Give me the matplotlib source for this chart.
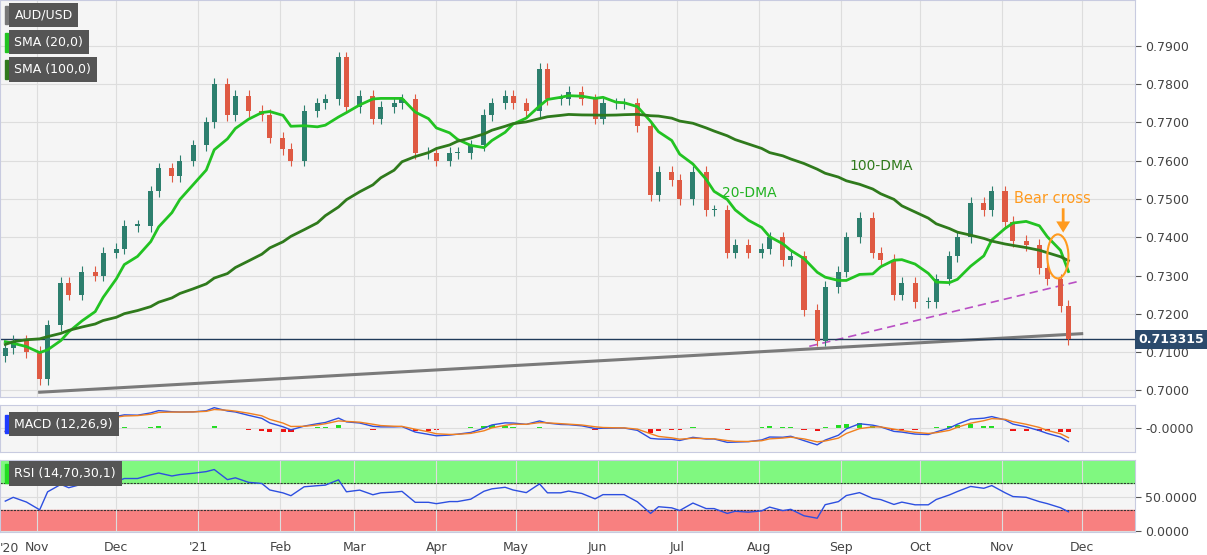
import numpy as np
import pandas as pd
import matplotlib
matplotlib.use("Agg")
import matplotlib.pyplot as plt
import matplotlib.dates as mdates
from matplotlib.patches import Ellipse

# ----------------------------
# Data (AUD/USD closes, one every 3 business days)
# ----------------------------
history = [0.690, 0.693, 0.695, 0.698, 0.700, 0.699, 0.702, 0.704, 0.706, 0.709,
           0.712, 0.716, 0.718, 0.720, 0.719, 0.722, 0.724, 0.727, 0.730, 0.733,
           0.725, 0.716, 0.714, 0.712, 0.710, 0.713, 0.716, 0.716, 0.714, 0.712,
           0.711, 0.709]

closes = [0.711, 0.713, 0.710, 0.703, 0.717, 0.728, 0.725, 0.731, 0.730, 0.736,
          0.737, 0.743, 0.743, 0.752, 0.758, 0.756, 0.760, 0.764, 0.770, 0.780,
          0.772, 0.777, 0.773, 0.772, 0.766, 0.763, 0.760, 0.773, 0.775, 0.776,
          0.787, 0.774, 0.777, 0.771, 0.774, 0.775, 0.776, 0.762, 0.762, 0.760,
          0.762, 0.762, 0.764, 0.772, 0.775, 0.777, 0.775, 0.773, 0.784, 0.776,
          0.776, 0.778, 0.776, 0.771, 0.775, 0.775, 0.775, 0.769, 0.751, 0.757,
          0.755, 0.750, 0.757, 0.747, 0.747, 0.736, 0.738, 0.736, 0.737, 0.740,
          0.734, 0.735, 0.721, 0.713, 0.727, 0.731, 0.740, 0.745, 0.736, 0.734,
          0.725, 0.728, 0.723, 0.723, 0.729, 0.735, 0.740, 0.749, 0.747, 0.752,
          0.744, 0.739, 0.738, 0.732, 0.729, 0.722, 0.7133]

last_price = 0.713315
support = (("2020-11-02", 0.6995), ("2021-12-01", 0.7148))
rising = (("2021-08-20", 0.7115), ("2021-11-30", 0.7285))

# ----------------------------
# Indicators
# ----------------------------
dates = pd.date_range(end="2021-11-26", periods=len(closes), freq="3B")
s_all = pd.Series(history + closes)
n0 = len(history)
sma20 = s_all.rolling(7).mean().values[n0:]
sma100 = s_all.rolling(33).mean().values[n0:]

ema_fast = s_all.ewm(span=4).mean()
ema_slow = s_all.ewm(span=9).mean()
macd = ema_fast - ema_slow
signal = macd.ewm(span=3).mean()
hist = (macd - signal).values[n0:]
macd = macd.values[n0:]
signal = signal.values[n0:]

delta = s_all.diff()
gain = delta.clip(lower=0).ewm(alpha=1 / 9).mean()
loss = (-delta.clip(upper=0)).ewm(alpha=1 / 9).mean()
rsi = (100 - 100 / (1 + gain / loss)).values[n0:]

x = mdates.date2num(dates)
opens = np.r_[history[-1], closes[:-1]]
closes_a = np.array(closes)

# ----------------------------
# Figure
# ----------------------------
fig = plt.figure(figsize=(12.07, 5.55), dpi=100)
bg = "#f5f5f5"
ax = fig.add_axes([0.0, 0.285, 0.940, 0.715], facecolor=bg)
axm = fig.add_axes([0.0, 0.186, 0.940, 0.085], facecolor=bg, sharex=ax)
axr = fig.add_axes([0.0, 0.041, 0.940, 0.130], facecolor=bg, sharex=ax)

up_c, dn_c = "#2d7f6e", "#df5a43"
for xi, o, c in zip(x, opens, closes_a):
    col = up_c if c >= o else dn_c
    lo, hi = min(o, c), max(o, c)
    ax.vlines(xi, lo - 0.0015, hi + 0.0015, color=col, lw=0.8, zorder=3)
    ax.bar(xi, max(hi - lo, 0.0004), bottom=lo, width=1.9, color=col, zorder=3)

ax.plot(x, sma20, color="#22c322", lw=2, zorder=4)
ax.plot(x, sma100, color="#2f7a1c", lw=2, zorder=4)

sx = mdates.datestr2num([support[0][0], support[1][0]])
ax.plot(sx, [support[0][1], support[1][1]], color="#7a7a7a", lw=2.2, zorder=2)
rx = mdates.datestr2num([rising[0][0], rising[1][0]])
ax.plot(rx, [rising[0][1], rising[1][1]], color="#b94fc4", lw=1.2, ls=(0, (5, 3)), zorder=2)

ax.axhline(last_price, color="#203a5a", lw=1, zorder=2)

ax.text(mdates.datestr2num("2021-09-04"), 0.7575, "100-DMA", color="#2f7a1c", fontsize=10)
ax.text(mdates.datestr2num("2021-07-18"), 0.7505, "20-DMA", color="#22b322", fontsize=10)
bx = mdates.datestr2num("2021-11-24")
ax.text(bx - 4, 0.7490, "Bear cross", color="#ff9a1e", fontsize=10.5, ha="center")
ax.annotate("", xy=(bx, 0.7405), xytext=(bx, 0.7483),
            arrowprops=dict(arrowstyle="simple,head_width=1.0,head_length=0.8",
                            color="#ff9a1e", lw=0))
ax.add_patch(Ellipse((mdates.datestr2num("2021-11-22"), 0.7350), width=8, height=0.0115,
                     fill=False, edgecolor="#ff9a1e", lw=1.5, zorder=5))

ax.set_ylim(0.6983, 0.8020)
ax.set_xlim(mdates.datestr2num("2020-10-18"), mdates.datestr2num("2021-12-21"))
ax.yaxis.tick_right()
yt = np.arange(0.70, 0.7901, 0.01)
ax.set_yticks(yt, [f"{v:.4f}" for v in yt])
ax.text(1.003, last_price, f"{last_price:.6f}", transform=ax.get_yaxis_transform(),
        va="center", ha="left", color="white", fontsize=9, fontweight="bold",
        bbox=dict(boxstyle="square,pad=0.25", fc="#2b4a6c", ec="none"), zorder=6)

# MACD
axm.bar(x, hist, width=2.0, color=np.where(hist >= 0, "#22dd22", "#ee1111"))
axm.plot(x, macd, color="#2d4fe0", lw=1)
axm.plot(x, signal, color="#f08020", lw=1)
axm.yaxis.tick_right()
lim = np.abs(np.r_[macd, signal]).max() * 1.15
axm.set_ylim(-lim, lim)
axm.set_yticks([0], ["-0.0000"])

# RSI
axr.axhspan(70, 105, color="#80f880", zorder=0)
axr.axhspan(-5, 30, color="#f88080", zorder=0)
axr.axhline(70, color="#333333", lw=0.8, ls=(0, (2, 1)))
axr.axhline(30, color="#333333", lw=0.8, ls=(0, (2, 1)))
axr.plot(x, rsi, color="#2d4fe0", lw=1)
axr.set_ylim(-2, 103)
axr.yaxis.tick_right()
axr.set_yticks([0, 50], ["0.0000", "50.0000"])

months = ["2020-11-01", "2020-12-01", "2021-01-01", "2021-02-01", "2021-03-01", "2021-04-01",
          "2021-05-01", "2021-06-01", "2021-07-01", "2021-08-01", "2021-09-01", "2021-10-01",
          "2021-11-01", "2021-12-01"]
mlabels = ["Nov", "Dec", "'21", "Feb", "Mar", "Apr", "May", "Jun", "Jul", "Aug", "Sep", "Oct", "Nov", "Dec"]
for a in (ax, axm, axr):
    a.set_xticks(mdates.datestr2num(months))
    a.grid(color="#dddddd", lw=0.8)
    a.tick_params(axis="y", length=4, colors="#555555", labelsize=9, labelcolor="#444444")
    a.tick_params(axis="x", length=0, labelbottom=False)
    for sp in a.spines.values():
        sp.set_color("#c8cbe0")
axr.tick_params(axis="x", labelbottom=True, labelsize=9, labelcolor="#444444", pad=6)
axr.set_xticklabels(mlabels)
axr.text(mdates.datestr2num("2020-10-18"), -16, "'20", fontsize=9, color="#444444",
         ha="left", va="top")

# Legend boxes
def tag(y, txt, edge):
    fig.text(0.012, y, txt, color="white", fontsize=9, va="center", ha="left",
             bbox=dict(boxstyle="square,pad=0.45", fc="#555555", ec="none"))
    fig.add_artist(plt.Rectangle((0.004, y - 0.017), 0.003, 0.034, transform=fig.transFigure,
                                 color=edge))

tag(0.973, "AUD/USD", "#777777")
tag(0.924, "SMA (20,0)", "#22c322")
tag(0.875, "SMA (100,0)", "#2f7a1c")
tag(0.236, "MACD (12,26,9)", "#1f3cff")
tag(0.147, "RSI (14,70,30,1)", "#22dd22")

fig.savefig("out.png", dpi=100)
